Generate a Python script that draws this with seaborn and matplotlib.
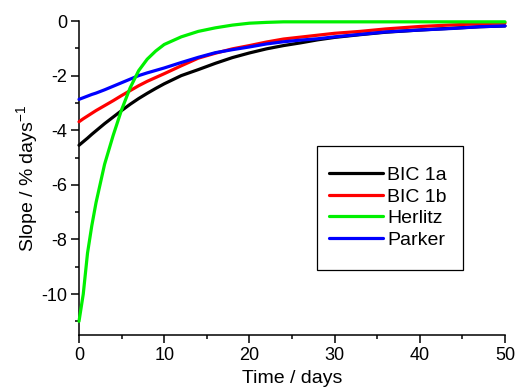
import matplotlib
matplotlib.use("Agg")
import matplotlib.pyplot as plt
from matplotlib.patches import Rectangle
import numpy as np
import pandas as pd
import seaborn as sns

# Time axis (days)
time_days = [0, 0.5, 1, 1.5, 2, 3, 4, 5, 6, 7, 8, 9, 10, 12, 14, 16, 18,
             20, 22, 24, 26, 28, 30, 33, 36, 40, 44, 47, 50]

# Slope (% days^-1) for each model
bic_1a = [-4.55, -4.42, -4.29, -4.15, -4.02, -3.76, -3.52, -3.28, -3.05, -2.84,
          -2.65, -2.47, -2.30, -2.00, -1.78, -1.55, -1.34, -1.17, -1.02, -0.90,
          -0.80, -0.69, -0.60, -0.50, -0.41, -0.33, -0.26, -0.21, -0.18]
bic_1b = [-3.69, -3.58, -3.48, -3.38, -3.28, -3.10, -2.92, -2.73, -2.55, -2.37,
          -2.21, -2.07, -1.93, -1.64, -1.36, -1.18, -1.02, -0.90, -0.77, -0.66,
          -0.59, -0.52, -0.45, -0.38, -0.29, -0.20, -0.14, -0.10, -0.07]
herlitz = [-11.0, -10.0, -8.5, -7.5, -6.65, -5.25, -4.2, -3.25, -2.45, -1.82,
           -1.40, -1.10, -0.86, -0.58, -0.38, -0.25, -0.15, -0.08, -0.05, -0.03,
           -0.03, -0.03, -0.03, -0.03, -0.03, -0.03, -0.03, -0.03, -0.03]
parker = [-2.87, -2.81, -2.75, -2.69, -2.64, -2.52, -2.39, -2.26, -2.13, -2.00,
          -1.90, -1.81, -1.72, -1.52, -1.33, -1.16, -1.05, -0.95, -0.84, -0.76,
          -0.70, -0.65, -0.58, -0.49, -0.40, -0.33, -0.27, -0.21, -0.18]

series_names = ["BIC 1a", "BIC 1b", "Herlitz", "Parker"]
series_values = [bic_1a, bic_1b, herlitz, parker]
colors = {"BIC 1a": "#000000", "BIC 1b": "#ff0000",
          "Herlitz": "#00f000", "Parker": "#0000ff"}
draw_order = ["BIC 1a", "BIC 1b", "Parker", "Herlitz"]

df = pd.concat(
    [pd.DataFrame({"Time": time_days, "Slope": vals, "Model": name})
     for name, vals in zip(series_names, series_values)],
    ignore_index=True,
)

sns.set_style("ticks")
plt.rcParams["font.family"] = ["Liberation Sans", "DejaVu Sans"]
plt.rcParams["axes.unicode_minus"] = False
plt.rcParams["text.color"] = "black"
plt.rcParams["axes.labelcolor"] = "black"
plt.rcParams["mathtext.fontset"] = "custom"
plt.rcParams["mathtext.rm"] = "Liberation Sans"
plt.rcParams["mathtext.it"] = "Liberation Sans"

fig = plt.figure(figsize=(5.15, 3.87), dpi=100)
ax = fig.add_axes([0.1534, 0.1344, 0.8272, 0.8113])

handles = {}
for z, name in enumerate(draw_order):
    sub = df[df["Model"] == name]
    sns.lineplot(data=sub, x="Time", y="Slope", ax=ax, color=colors[name],
                 linewidth=2.3, estimator=None, sort=False, zorder=3 + z,
                 legend=False)
    line = ax.get_lines()[-1]
    line.set_clip_on(False)
    handles[name] = line

ax.set_xlim(0, 50)
ax.set_ylim(-11.5, 0)
ax.set_xticks([0, 10, 20, 30, 40, 50])
ax.set_xticks([5, 15, 25, 35, 45], minor=True)
ax.set_yticks([0, -2, -4, -6, -8, -10])
ax.set_yticks([-1, -3, -5, -7, -9, -11], minor=True)

for side in ("top", "right"):
    ax.spines[side].set_visible(False)
for side in ("left", "bottom"):
    ax.spines[side].set_linewidth(1.1)
    ax.spines[side].set_color("black")

ax.tick_params(axis="both", which="major", direction="out", length=5.8,
               width=1.1, colors="black", labelsize=13)
ax.tick_params(axis="both", which="minor", direction="out", length=3.0,
               width=1.1, colors="black")
ax.tick_params(axis="y", which="major", pad=2.5)
ax.tick_params(axis="x", which="major", pad=3.0)

ax.set_xlabel("Time / days", fontsize=14, labelpad=4)
ax.set_ylabel("Slope / % days$^{\\mathrm{-1}}$", fontsize=14, labelpad=1)

# Legend frame
ax.add_patch(Rectangle((0.559, 0.207), 0.342, 0.395, transform=ax.transAxes,
                       facecolor="white", edgecolor="black", linewidth=0.9,
                       zorder=10))
leg = ax.legend([handles[n] for n in series_names], series_names,
                loc="center left", bbox_to_anchor=(0.587, 0.406),
                frameon=False, fontsize=14, handlelength=2.75,
                handletextpad=0.25, labelspacing=0.2, borderpad=0,
                borderaxespad=0)
leg.set_zorder(11)

fig.savefig("out.png", dpi=100)
